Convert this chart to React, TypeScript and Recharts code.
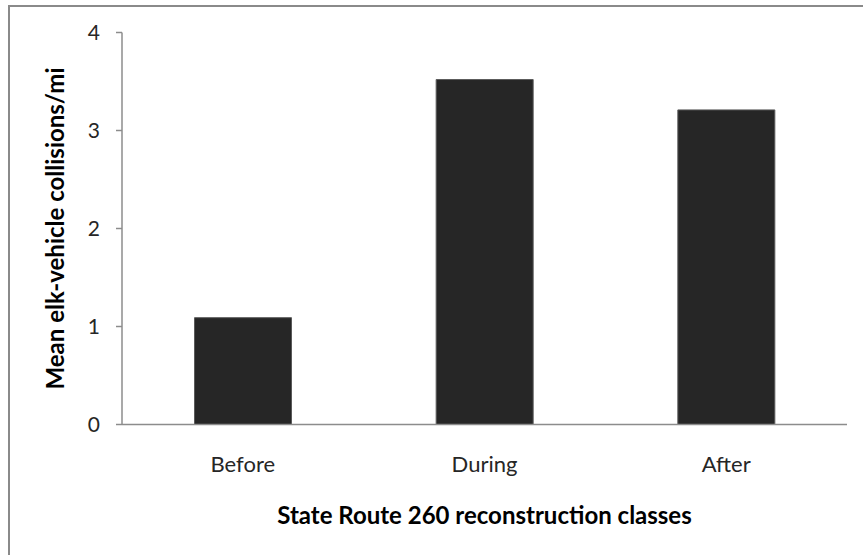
import { BarChart, Bar, XAxis, YAxis } from 'recharts';

const classes = ['Before', 'During', 'After'];
const meanCollisions = [1.09, 3.52, 3.21];
const yTicks = [0, 1, 2, 3, 4];

const data = classes.map((c, i) => ({ cls: c, value: meanCollisions[i] }));

const font = 'Lato, "Open Sans", sans-serif';

export default function App() {
  return (
    <div style={{ position: 'absolute', left: 0, top: 0, width: 863, height: 555, overflow: 'hidden', background: '#fff' }}>
      <div style={{ position: 'absolute', left: 8, top: 5, width: 900, height: 600, border: '2px solid #8a8a8a' }} />
      <div style={{ position: 'absolute', left: 0, top: 0 }}>
        <BarChart
          width={863}
          height={555}
          data={data}
          margin={{ top: 32.5, right: 16, left: 0, bottom: 0 }}
          barCategoryGap="30%"
        >
          <XAxis
            dataKey="cls"
            height={130.5}
            tickLine={false}
            tickSize={6}
            tickMargin={26}
            axisLine={{ stroke: '#8c8c8c', strokeWidth: 1.5 }}
            tick={{ fontSize: 22, fill: '#262626', fontFamily: font }}
            label={{
              value: 'State Route 260 reconstruction classes',
              position: 'insideBottom',
              offset: 31,
              style: { fontSize: 24, fontWeight: 'bold', fill: '#000', fontFamily: font },
            }}
          />
          <YAxis
            width={122}
            domain={[0, 4]}
            ticks={yTicks}
            interval={0}
            tickSize={6}
            tickMargin={16}
            axisLine={{ stroke: '#8c8c8c', strokeWidth: 1.5 }}
            tickLine={{ stroke: '#8c8c8c', strokeWidth: 1.5 }}
            tick={{ fontSize: 21, fill: '#262626', fontFamily: font }}
            label={{
              value: 'Mean elk-vehicle collisions/mi',
              angle: -90,
              position: 'center',
              dx: -6,
              style: { fontSize: 24, fontWeight: 'bold', fill: '#000', fontFamily: font, textAnchor: 'middle' },
            }}
          />
          <Bar dataKey="value" fill="#262626" stroke="#5a5a5a" strokeWidth={1} isAnimationActive={false} />
        </BarChart>
      </div>
    </div>
  );
}
